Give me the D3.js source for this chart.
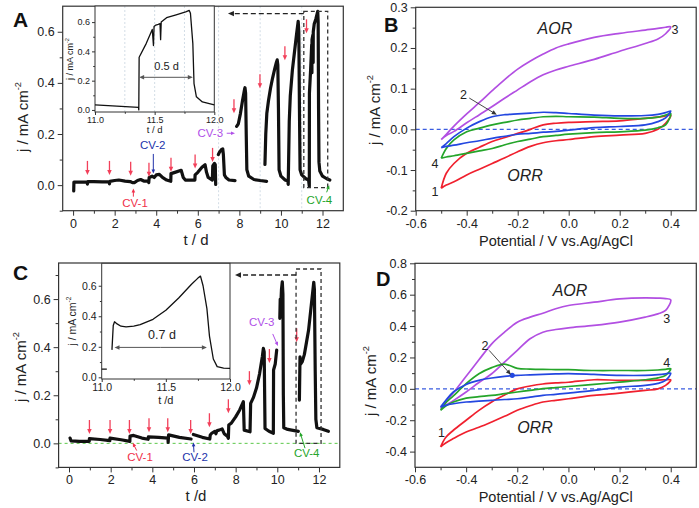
<!DOCTYPE html>
<html>
<head>
<meta charset="utf-8">
<script src="https://cdn.jsdelivr.net/npm/d3@7"></script>
<style>
  body { margin: 0; background: #fff; }
  text { font-family: "Liberation Sans", Arial, sans-serif; }
</style>
</head>
<body>
<svg id="fig" width="699" height="508"></svg>
<script>
// ---- panel A: current vs time (null = break in the trace)
var timeA = [0.03,0.04,0.3,0.68,0.69,0.71,1.0,1.4,1.74,1.75,1.77,2.0,2.2,2.5,2.75,2.85,2.95,3.1,3.25,3.4,3.6,3.64,3.66,3.8,3.9,4.0,4.15,4.3,4.5,4.7,4.71,4.9,5.2,5.3,5.4,5.86,5.87,6.0,6.2,6.35,6.42,6.5,6.7,6.72,6.8,6.84,6.86,6.9,
  6.99,7.05,7.15,7.2,7.23,7.28,7.35,7.5,7.79,7.83,
  7.87,7.95,8.05,8.15,8.25,8.27,8.3,8.33,8.36,8.45,8.7,9.0,9.31,9.32,
  9.23,9.27,9.32,9.4,9.5,9.6,9.7,9.78,9.82,9.85,9.88,9.91,10.0,10.2,10.33,10.35,
  10.37,10.4,10.45,10.55,10.65,10.75,10.83,10.86,10.89,10.92,11.0,11.2,11.33,11.365,
  11.37,11.43,11.48,11.49,11.495,11.53,11.545,11.55,11.555,11.6,11.68,11.74,11.77,11.79,11.81,11.83,11.87,12.0,12.2,12.35];
var currentA = [-0.023,0.012,0.012,0.012,0.004,0.014,0.014,0.013,0.013,0.005,0.015,0.018,0.02,0.016,0.014,0.01,0.01,0.018,0.022,0.016,0.016,0.01,0.03,0.035,0.03,0.04,0.042,0.03,0.02,0.015,0.045,0.05,0.058,0.03,0.02,0.02,0.04,0.05,0.07,0.08,0.05,0.03,0.02,0.075,0.085,0.08,0.003,null,
  0.12,0.13,0.14,0.142,0.12,0.04,0.03,0.02,0.018,null,
  0.23,0.24,0.28,0.33,0.375,0.381,0.36,0.2,0.06,0.035,0.022,0.018,0.015,null,
  0.081,0.2,0.28,0.33,0.38,0.42,0.455,0.48,0.49,0.47,0.3,0.06,0.035,0.02,0.016,0.003,
  0.1,0.25,0.35,0.45,0.52,0.59,0.641,0.6,0.3,0.06,0.04,0.025,0.02,-0.005,
  0.36,0.455,0.55,0.44,0.57,0.585,0.59,0.48,0.6,0.63,0.65,0.67,0.68,0.64,0.3,0.09,0.055,0.035,0.025,0.02];
var arrowTimeA = [0.69,1.75,2.77,3.65,4.71,5.87,6.71,7.74,8.99,10.19,11.23];
var arrowTipA = [0.04,0.04,0.037,0.033,0.052,0.065,0.091,0.281,0.379,0.489,0.594];

// ---- inset of A (11 - 12 d)
var timeAi = [11.0,11.365,11.367,11.37,11.43,11.48,11.49,11.495,11.51,11.53,11.545,11.55,11.555,11.6,11.68,11.76,11.79,11.8,11.82,11.83,11.85,11.9,12.0];
var currentAi = [0.034,0.018,0.0,0.36,0.455,0.55,0.44,0.57,0.58,0.585,0.59,0.48,0.6,0.63,0.65,0.67,0.68,0.66,0.455,0.18,0.09,0.055,0.034];

// ---- panel C: current vs time
var timeC = [0.05,0.1,0.5,0.97,0.98,1.5,1.96,1.97,2.5,2.92,2.93,3.1,3.5,3.8,3.81,4.3,4.75,4.76,4.78,5.3,5.86,5.9,
  5.97,6.4,6.76,6.78,6.85,7.0,7.05,7.1,7.2,7.35,7.45,7.6,7.65,7.67,7.8,8.0,8.2,8.37,8.41,8.69,8.72,8.85,9.0,9.15,9.28,9.33,9.37,9.41,9.6,9.81,9.82,9.9,9.97,10.05,
  10.12,10.14,10.16,10.2,10.24,10.27,10.29,10.31,10.5,11.01,11.03,
  11.06,11.09,11.12,11.2,11.3,11.4,11.5,11.6,11.7,11.75,11.78,11.82,11.85,11.9,12.2,12.45];
var currentC = [0.022,0.01,0.008,0.008,0.02,0.016,0.011,0.022,0.015,0.008,0.03,0.033,0.022,0.017,0.027,0.025,0.022,0.004,0.035,0.025,0.018,null,
  0.037,0.025,0.018,0.035,0.042,0.05,0.04,0.052,0.055,0.06,0.04,0.03,0.021,0.076,0.085,0.11,0.14,0.173,0.055,0.048,0.166,0.19,0.23,0.29,0.36,0.395,0.38,0.062,0.05,0.042,0.305,0.33,0.388,null,
  0.52,0.6,0.56,0.64,0.672,0.62,0.2,0.065,0.058,0.05,null,
  0.18,0.36,0.33,0.34,0.37,0.42,0.47,0.55,0.63,0.67,0.64,0.3,0.1,0.065,0.058,0.05];
var arrowTimeC = [0.98,1.97,2.9,3.84,4.74,5.84,6.74,7.65,8.66,9.62,10.93];
var arrowTipC = [0.039,0.039,0.039,0.046,0.046,0.039,0.067,0.125,0.242,0.334,0.42];

// ---- inset of C
var timeCi = [11.0,11.04,11.06,11.08,11.09,11.1,11.12,11.15,11.19,11.25,11.3,11.4,11.5,11.6,11.7,11.75,11.77,11.79,11.82,11.84,11.87,11.9,11.95,12.0];
var currentCi = [0.054,0.054,null,0.18,0.34,0.364,0.35,0.335,0.33,0.335,0.345,0.38,0.44,0.52,0.61,0.65,0.663,0.6,0.45,0.27,0.12,0.07,0.06,0.058];

// ---- cyclic voltammograms (same potential grid, forward and backward sweeps)
var cvPotential = [-0.5,-0.48,-0.45,-0.4,-0.35,-0.3,-0.25,-0.2,-0.15,-0.1,-0.05,0,0.1,0.2,0.3,0.35,0.38,0.4];
var cvLabels = ["1","2","3","4"];
var cvColors = ["#f0202e","#2347e0","#b24fe2","#25a52a"];

var cvB1fwd = [-0.145,-0.108,-0.084,-0.059,-0.044,-0.03,-0.02,-0.01,0.0,0.011,0.015,0.017,0.019,0.021,0.027,0.03,0.033,0.035];
var cvB1rev = [-0.145,-0.137,-0.129,-0.112,-0.098,-0.084,-0.07,-0.055,-0.042,-0.033,-0.028,-0.025,-0.018,-0.014,-0.01,0.0,0.015,0.035];
var cvB2fwd = [-0.045,-0.035,-0.018,0.003,0.019,0.031,0.036,0.038,0.04,0.042,0.041,0.039,0.035,0.033,0.034,0.037,0.041,0.045];
var cvB2rev = [-0.045,-0.042,-0.039,-0.033,-0.028,-0.022,-0.017,-0.012,-0.01,-0.007,-0.005,-0.002,0.004,0.007,0.011,0.019,0.028,0.045];
var cvB3fwd = [-0.025,-0.012,0.008,0.038,0.066,0.095,0.123,0.148,0.168,0.185,0.2,0.21,0.226,0.236,0.244,0.248,0.251,0.252];
var cvB3rev = [-0.025,-0.015,-0.005,0.016,0.036,0.056,0.077,0.097,0.117,0.134,0.146,0.155,0.172,0.192,0.211,0.222,0.235,0.252];
var cvB4fwd = [-0.071,-0.047,-0.026,-0.006,0.003,0.011,0.017,0.023,0.027,0.031,0.032,0.031,0.03,0.027,0.027,0.03,0.035,0.039];
var cvB4rev = [-0.071,-0.068,-0.065,-0.059,-0.053,-0.047,-0.038,-0.03,-0.024,-0.018,-0.015,-0.012,-0.008,-0.006,-0.002,0.004,0.011,0.039];

var cvD1fwd = [-0.37,-0.31,-0.264,-0.2,-0.137,-0.084,-0.04,0.0,0.018,0.031,0.038,0.042,0.058,0.054,0.054,0.056,0.058,0.058];
var cvD1rev = [-0.37,-0.345,-0.317,-0.275,-0.245,-0.211,-0.175,-0.137,-0.108,-0.084,-0.073,-0.063,-0.042,-0.027,-0.01,0.0,0.022,0.058];
var cvD2fwd = [-0.116,-0.075,-0.02,0.028,0.054,0.069,0.08,0.086,0.089,0.092,0.095,0.097,0.092,0.086,0.086,0.09,0.095,0.1];
var cvD2rev = [-0.116,-0.105,-0.095,-0.084,-0.078,-0.073,-0.068,-0.063,-0.053,-0.042,-0.035,-0.027,-0.01,0.011,0.022,0.035,0.054,0.1];
var cvD3fwd = [-0.126,-0.085,-0.025,0.08,0.185,0.287,0.361,0.425,0.457,0.482,0.51,0.531,0.552,0.573,0.58,0.578,0.575,0.567];
var cvD3rev = [-0.126,-0.105,-0.075,-0.02,0.04,0.096,0.17,0.245,0.319,0.361,0.378,0.389,0.404,0.425,0.457,0.478,0.5,0.567];
var cvD4fwd = [-0.137,-0.09,-0.045,0.033,0.096,0.135,0.158,0.13,0.126,0.124,0.123,0.122,0.117,0.117,0.117,0.12,0.124,0.128];
var cvD4rev = [-0.137,-0.11,-0.084,-0.059,-0.05,-0.042,-0.031,-0.02,-0.01,0.001,0.008,0.015,0.028,0.043,0.058,0.07,0.086,0.128];

// tick values
var tTicks = [0,2,4,6,8,10,12], tMinor = [1,3,5,7,9,11];
var jTicksA = [0,0.2,0.4,0.6], jMinorA = [-0.1,0.1,0.3,0.5];
var jTicksC = [0,0.2,0.4,0.6], jMinorC = [-0.1,0.1,0.3,0.5,0.7];
var insetTicks = [11,11.5,12], insetMinor = [11.25,11.75];
var insetJTicks = [0,0.2,0.4,0.6], insetJMinor = [0.1,0.3,0.5];
var eTicks = [-0.6,-0.4,-0.2,0,0.2,0.4], eMinor = [-0.5,-0.3,-0.1,0.1,0.3];
var jTicksB = [-0.2,-0.1,0,0.1,0.2,0.3], jMinorB = [-0.15,-0.05,0.05,0.15,0.25];
var jTicksD = [-0.4,-0.2,0,0.2,0.4,0.6,0.8], jMinorD = [-0.3,-0.1,0.1,0.3,0.5,0.7];

var svg = d3.select("#fig");
var arrowRed = "#f2405a";
var fmt1 = function (d) { return d.toFixed(1); };
var fmt0 = function (d) { return String(d); };
var blank = function () { return ""; };

function drawAxes(g, x, y, o) {
  var xr = x.range(), yr = y.range();
  var parts = [
    [d3.axisBottom(x).tickValues(o.xTicks).tickFormat(o.xFmt).tickSize(o.tick), "translate(0," + yr[0] + ")"],
    [d3.axisBottom(x).tickValues(o.xMinor).tickFormat(blank).tickSize(o.tick * 0.6), "translate(0," + yr[0] + ")"],
    [d3.axisLeft(y).tickValues(o.yTicks).tickFormat(o.yFmt).tickSize(o.tick), "translate(" + xr[0] + ",0)"],
    [d3.axisLeft(y).tickValues(o.yMinor).tickFormat(blank).tickSize(o.tick * 0.6), "translate(" + xr[0] + ",0)"]
  ];
  parts.forEach(function (p) {
    var a = g.append("g").attr("transform", p[1]).call(p[0].tickSizeOuter(0).tickPadding(o.pad));
    a.select(".domain").remove();
    a.selectAll("line").attr("stroke", "#333");
    a.selectAll("text").attr("font-size", o.font).attr("fill", "#222")
      .attr("font-family", "Liberation Sans, Arial, sans-serif");
  });
  g.append("rect").attr("x", xr[0]).attr("y", yr[1])
    .attr("width", xr[1] - xr[0]).attr("height", yr[0] - yr[1])
    .attr("fill", "none").attr("stroke", "#333").attr("stroke-width", o.frame);
}

function yTitle(g, cx, cy, size) {
  var t = g.append("text").attr("transform", "translate(" + cx + "," + cy + ") rotate(-90)")
    .attr("text-anchor", "middle").attr("font-size", size).attr("fill", "#222");
  t.append("tspan").text("j / mA cm");
  t.append("tspan").attr("font-size", size * 0.62).attr("dy", -size * 0.45).text("-2");
}

function arrow(g, x1, y1, x2, y2, color, w, head, dash) {
  var a = Math.atan2(y2 - y1, x2 - x1), c = Math.cos(a), s = Math.sin(a);
  g.append("line").attr("x1", x1).attr("y1", y1)
    .attr("x2", x2 - head * 0.7 * c).attr("y2", y2 - head * 0.7 * s)
    .attr("stroke", color).attr("stroke-width", w).attr("stroke-dasharray", dash || null);
  var hw = head * 0.45;
  var pts = [[x2, y2],
    [x2 - head * c + hw * s, y2 - head * s - hw * c],
    [x2 - head * c - hw * s, y2 - head * s + hw * c]];
  g.append("path").attr("d", "M" + pts.join("L") + "Z").attr("fill", color);
}

function label(g, x, y, txt, o) {
  return g.append("text").attr("x", x).attr("y", y).text(txt)
    .attr("text-anchor", o.anchor || "middle").attr("font-size", o.size)
    .attr("fill", o.color || "#222").attr("font-style", o.italic ? "italic" : null)
    .attr("font-weight", o.bold ? "bold" : null);
}

function pairs(xs, ys) {
  return xs.map(function (v, i) { return [v, ys[i]]; });
}

// ================= time-series panels =================
function timePanel(cfg) {
  var g = svg.append("g");
  var x = d3.scaleLinear().domain([-0.5, 13]).range(cfg.xr);
  var y = d3.scaleLinear().domain(cfg.yd).range(cfg.yr);

  cfg.grid.forEach(function (gx) {
    g.append("line").attr("x1", x(gx)).attr("x2", x(gx)).attr("y1", cfg.yr[1]).attr("y2", cfg.yr[0])
      .attr("stroke", "#c8d4e0").attr("stroke-width", 0.8).attr("stroke-dasharray", "2,2");
  });
  if (cfg.zeroLine) {
    g.append("line").attr("x1", cfg.xr[0]).attr("x2", cfg.xr[1]).attr("y1", y(0)).attr("y2", y(0))
      .attr("stroke", "#5cc84a").attr("stroke-width", 1).attr("stroke-dasharray", "3,3");
  }

  drawAxes(g, x, y, { xTicks: tTicks, xMinor: tMinor, xFmt: fmt0, yTicks: cfg.yTicks, yMinor: cfg.yMinor,
    yFmt: fmt1, tick: 5, pad: 3, font: 12.5, frame: 1.2 });

  var line = d3.line().defined(function (d) { return d[1] !== null; })
    .x(function (d) { return x(d[0]); }).y(function (d) { return y(d[1]); });
  g.append("path").datum(pairs(cfg.t, cfg.j)).attr("d", line)
    .attr("fill", "none").attr("stroke", "#111").attr("stroke-width", 3.2)
    .attr("stroke-linejoin", "round").attr("stroke-linecap", "round");

  // red marker arrows
  cfg.arrowT.forEach(function (at, i) {
    var px = x(at), py = y(cfg.arrowJ[i]);
    arrow(g, px, py - 14, px, py, arrowRed, 1.3, 5);
  });

  // dashed box + leftward arrow
  var b = cfg.box;
  g.append("rect").attr("x", x(b[0])).attr("y", y(b[3]))
    .attr("width", x(b[1]) - x(b[0])).attr("height", y(b[2]) - y(b[3]))
    .attr("fill", "none").attr("stroke", "#333").attr("stroke-width", 1.3).attr("stroke-dasharray", "4,3");
  arrow(g, x(b[0]), y(cfg.boxArrow[1]), x(cfg.boxArrow[0]), y(cfg.boxArrow[1]), "#222", 1.3, 6, "5,3");

  // CV labels
  cfg.cv.forEach(function (c) {
    label(g, x(c.tx), y(c.ty), c.text, { size: 11.5, color: c.color });
    arrow(g, x(c.a[0]), y(c.a[1]), x(c.a[2]), y(c.a[3]), c.color, 1, 4);
  });

  yTitle(g, cfg.yTitle[0], cfg.yTitle[1], 15);
  label(g, cfg.xTitle[0], cfg.xTitle[1], cfg.xText, { size: 15 });
  label(g, cfg.letter[0], cfg.letter[1], cfg.letterText, { size: 21, bold: true, anchor: "start", color: "#111" });

  // inset
  var ig = g.append("g");
  var xi = d3.scaleLinear().domain([11, 12]).range(cfg.inset.xr);
  var yi = d3.scaleLinear().domain(cfg.inset.yd).range(cfg.inset.yr);
  ig.append("rect").attr("x", cfg.inset.xr[0]).attr("y", cfg.inset.yr[1])
    .attr("width", cfg.inset.xr[1] - cfg.inset.xr[0]).attr("height", cfg.inset.yr[0] - cfg.inset.yr[1]).attr("fill", "#fff");
  cfg.inset.grid.forEach(function (gx) {
    ig.append("line").attr("x1", xi(gx)).attr("x2", xi(gx)).attr("y1", cfg.inset.yr[1]).attr("y2", cfg.inset.yr[0])
      .attr("stroke", "#c8d4e0").attr("stroke-width", 0.8).attr("stroke-dasharray", "2,2");
  });
  drawAxes(ig, xi, yi, { xTicks: insetTicks, xMinor: insetMinor, xFmt: fmt1, yTicks: insetJTicks, yMinor: insetJMinor,
    yFmt: fmt1, tick: 3, pad: 2, font: cfg.inset.font, frame: 1 });
  var iline = d3.line().defined(function (d) { return d[1] !== null; })
    .x(function (d) { return xi(d[0]); }).y(function (d) { return yi(d[1]); });
  ig.append("path").datum(pairs(cfg.inset.t, cfg.inset.j)).attr("d", iline)
    .attr("fill", "none").attr("stroke", "#111").attr("stroke-width", 1.3).attr("stroke-linejoin", "round");
  var sp = cfg.inset.span;
  arrow(ig, xi((sp[0] + sp[1]) / 2), yi(sp[2]), xi(sp[0]), yi(sp[2]), "#555", 1, 5);
  arrow(ig, xi((sp[0] + sp[1]) / 2), yi(sp[2]), xi(sp[1]), yi(sp[2]), "#555", 1, 5);
  label(ig, xi(sp[3]), yi(sp[4]), sp[5], { size: cfg.inset.font + 2 });
  label(ig, xi(11.5), cfg.inset.xTitleY, cfg.inset.xText, { size: cfg.inset.font + 0.5 });
  yTitle(ig, cfg.inset.yTitleX, (cfg.inset.yr[0] + cfg.inset.yr[1]) / 2, cfg.inset.font);
}

timePanel({
  xr: [62.7, 343.3], yd: [-0.1, 0.7], yr: [210.7, 6.2],
  yTicks: jTicksA, yMinor: jMinorA, grid: [7, 9, 11], zeroLine: false,
  t: timeA, j: currentA, arrowT: arrowTimeA, arrowJ: arrowTipA,
  box: [11.1, 12.25, -0.01, 0.68], boxArrow: [7.45, 0.671],
  cv: [
    { text: "CV-1", tx: 2.98, ty: -0.085, color: "#f0304a", a: [2.9, -0.045, 2.9, -0.013] },
    { text: "CV-2", tx: 3.83, ty: 0.14, color: "#2233aa", a: [3.86, 0.122, 3.86, 0.046] },
    { text: "CV-3", tx: 6.6, ty: 0.19, color: "#b050e8", a: [7.39, 0.203, 7.79, 0.203] },
    { text: "CV-4", tx: 11.85, ty: -0.072, color: "#25a52a", a: [12.2, -0.028, 12.32, 0.0] }
  ],
  yTitle: [28, 117], xTitle: [196, 245], xText: "t / d", letter: [13, 27], letterText: "A",
  inset: { xr: [95, 214.3], yd: [-0.014, 0.71], yr: [112, 6], grid: [11.25, 11.5, 11.75],
    t: timeAi, j: currentAi, font: 9, span: [11.37, 11.82, 0.223, 11.6, 0.27, "0.5 d"],
    xTitleY: 133, xText: "t / d", yTitleX: 73 }
});

timePanel({
  xr: [58.6, 339.8], yd: [-0.1, 0.75], yr: [467.4, 263],
  yTicks: jTicksC, yMinor: jMinorC, grid: [], zeroLine: true,
  t: timeC, j: currentC, arrowT: arrowTimeC, arrowJ: arrowTipC,
  box: [10.9, 12.1, 0, 0.725], boxArrow: [7.97, 0.70],
  cv: [
    { text: "CV-1", tx: 3.41, ty: -0.075, color: "#f0304a", a: [3.25, -0.03, 3.06, 0.002] },
    { text: "CV-2", tx: 6.05, ty: -0.075, color: "#2233aa", a: [6.0, -0.037, 5.97, 0.004] },
    { text: "CV-3", tx: 9.25, ty: 0.49, color: "#b050e8", a: [9.78, 0.455, 10.03, 0.405] },
    { text: "CV-4", tx: 11.41, ty: -0.058, color: "#25a52a", a: [11.33, -0.02, 11.09, 0.046] }
  ],
  yTitle: [26, 367], xTitle: [196, 501], xText: "t /d", letter: [13, 280], letterText: "C",
  inset: { xr: [101.7, 230], yd: [-0.011, 0.747], yr: [379, 263.3], grid: [],
    t: timeCi, j: currentCi, font: 10.5, span: [11.1, 11.82, 0.196, 11.47, 0.25, "0.7 d"],
    xTitleY: 404, xText: "t /d", yTitleX: 76 }
});

// ================= CV panels =================
function cvPanel(cfg) {
  var g = svg.append("g");
  var x = d3.scaleLinear().domain([-0.6, 0.5]).range(cfg.xr);
  var y = d3.scaleLinear().domain(cfg.yd).range(cfg.yr);

  g.append("line").attr("x1", cfg.xr[0]).attr("x2", cfg.xr[1]).attr("y1", y(0)).attr("y2", y(0))
    .attr("stroke", "#3a5ce0").attr("stroke-width", 1.2).attr("stroke-dasharray", "4,3");

  drawAxes(g, x, y, { xTicks: eTicks, xMinor: eMinor, xFmt: fmt1, yTicks: cfg.yTicks, yMinor: cfg.yMinor,
    yFmt: fmt1, tick: 5, pad: 3, font: 12.5, frame: 1.2 });

  var line = d3.line().curve(d3.curveCatmullRom.alpha(0.5))
    .x(function (d) { return x(d[0]); }).y(function (d) { return y(d[1]); });
  cfg.order.forEach(function (k) {
    var fwd = pairs(cvPotential, cfg.fwd[k]);
    var rev = pairs(cvPotential, cfg.rev[k]).reverse().slice(1);
    g.append("path").datum(fwd.concat(rev)).attr("d", line)
      .attr("fill", "none").attr("stroke", cvColors[k]).attr("stroke-width", 1.7).attr("stroke-linejoin", "round");
  });
  if (cfg.dot) {
    g.append("circle").attr("cx", x(cfg.dot[0])).attr("cy", y(cfg.dot[1])).attr("r", 2.6).attr("fill", cvColors[1]);
  }

  label(g, x(cfg.aor[0]), y(cfg.aor[1]), "AOR", { size: 16, italic: true }).attr("dy", "0.35em");
  label(g, x(cfg.orr[0]), y(cfg.orr[1]), "ORR", { size: 16, italic: true }).attr("dy", "0.35em");
  cfg.nums.forEach(function (n, i) {
    label(g, x(n[0]), y(n[1]), cvLabels[i], { size: 12.5 }).attr("dy", "0.35em");
  });
  var a = cfg.numArrow;
  arrow(g, x(a[0]), y(a[1]), x(a[2]), y(a[3]), "#333", 0.9, 5);

  yTitle(g, cfg.yTitle[0], cfg.yTitle[1], 15);
  label(g, (cfg.xr[0] + cfg.xr[1]) / 2, cfg.xTitleY, "Potential / V vs.Ag/AgCl", { size: 14.5 });
  label(g, cfg.letter[0], cfg.letter[1], cfg.letterText, { size: 20, bold: true, anchor: "start", color: "#111" });
}

cvPanel({
  xr: [415.7, 696.2], yd: [-0.2, 0.3], yr: [210.7, 7.3], yTicks: jTicksB, yMinor: jMinorB,
  fwd: [cvB1fwd, cvB2fwd, cvB3fwd, cvB4fwd], rev: [cvB1rev, cvB2rev, cvB3rev, cvB4rev], order: [2, 0, 3, 1],
  aor: [-0.054, 0.248], orr: [-0.171, -0.114],
  nums: [[-0.524, -0.153], [-0.413, 0.086], [0.417, 0.244], [-0.524, -0.084]],
  numArrow: [-0.39, 0.077, -0.282, 0.036],
  yTitle: [380, 110], xTitleY: 246, letter: [384, 32], letterText: "B"
});

cvPanel({
  xr: [415, 696.3], yd: [-0.5, 0.8], yr: [467.3, 263.3], yTicks: jTicksD, yMinor: jMinorD,
  dot: [-0.22, 0.086],
  fwd: [cvD1fwd, cvD2fwd, cvD3fwd, cvD4fwd], rev: [cvD1rev, cvD2rev, cvD3rev, cvD4rev], order: [2, 0, 3, 1],
  aor: [0.006, 0.625], orr: [-0.131, -0.245],
  nums: [[-0.496, -0.277], [-0.326, 0.275], [0.384, 0.445], [0.384, 0.169]],
  numArrow: [-0.31, 0.245, -0.225, 0.09],
  yTitle: [376, 381], xTitleY: 502, letter: [376, 286], letterText: "D"
});
</script>
</body>
</html>
